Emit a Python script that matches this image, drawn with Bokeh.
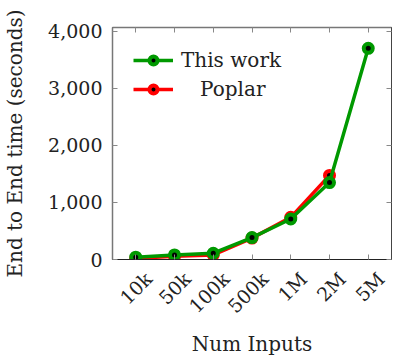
import numpy as np
from bokeh.plotting import figure
from bokeh.models import (Range1d, FixedTicker, LinearAxis, Legend, LegendItem,
                          NumeralTickFormatter, CustomJSTickFormatter)
from bokeh.embed import file_html
from bokeh.resources import INLINE

categories = ["10k", "50k", "100k", "500k", "1M", "2M", "5M"]
this_work = [40, 80, 110, 385, 710, 1350, 3705]
poplar_cats = ["10k", "50k", "100k", "500k", "1M", "2M"]
poplar = [20, 55, 80, 375, 740, 1475]
y_ticks = [0, 1000, 2000, 3000, 4000]

FONT = "DejaVu Serif"
GREEN = "#009900"
RED = "#ff0000"
TXT = "#222222"

xpos = {c: i for i, c in enumerate(categories)}
x_tw = [xpos[c] for c in categories]
x_pp = [xpos[c] for c in poplar_cats]
cat_ticks = list(range(len(categories)))
LABEL_SHIFT = 0.33  # rotated labels end a little right of their tick, as in pgfplots
label_ticks = [t + LABEL_SHIFT for t in cat_ticks]

p = figure(width=393, height=358, output_backend="svg", toolbar_location=None,
           x_range=Range1d(-0.6, len(categories) - 1 + 0.6),
           y_range=Range1d(0, 4070),
           min_border_left=112, min_border_right=2, min_border_top=27, min_border_bottom=99)
p.background_fill_color = None
p.border_fill_color = None
p.grid.visible = False
p.outline_line_color = "#444444"
p.outline_line_width = 1

blank = CustomJSTickFormatter(code="return ''")

# bottom axis: tick marks only
xa = p.xaxis[0]
xa.ticker = FixedTicker(ticks=cat_ticks)
xa.formatter = blank
xa.major_tick_in = 5
xa.major_tick_out = 0
xa.minor_tick_line_color = None
xa.major_tick_line_color = "#888888"
xa.axis_line_color = "#222222"
xa.major_label_standoff = 0

# bottom axis: rotated category labels + title
xl = LinearAxis(ticker=FixedTicker(ticks=label_ticks),
                major_label_overrides={t: c for t, c in zip(label_ticks, categories)},
                major_label_orientation=np.pi / 4,
                major_tick_line_color=None, minor_tick_line_color=None,
                axis_line_color=None,
                major_label_text_font=FONT, major_label_text_font_size="19px",
                major_label_text_color=TXT, major_label_standoff=10,
                axis_label="Num Inputs", axis_label_text_font=FONT,
                axis_label_text_font_style="normal", axis_label_text_font_size="20px",
                axis_label_text_color=TXT, axis_label_standoff=4)
p.add_layout(xl, "below")

ya = p.yaxis[0]
ya.ticker = FixedTicker(ticks=y_ticks)
ya.formatter = NumeralTickFormatter(format="0,0")
ya.major_tick_in = 5
ya.major_tick_out = 0
ya.minor_tick_line_color = None
ya.major_tick_line_color = "#888888"
ya.axis_line_color = "#777777"
ya.axis_line_width = 1.5
ya.major_label_text_font = FONT
ya.major_label_text_font_size = "19px"
ya.major_label_text_color = TXT
ya.major_label_standoff = 10
ya.axis_label = "End to End time (seconds)"
ya.axis_label_text_font = FONT
ya.axis_label_text_font_style = "normal"
ya.axis_label_text_font_size = "20px"
ya.axis_label_text_color = TXT
ya.axis_label_standoff = 18

right = LinearAxis(ticker=FixedTicker(ticks=y_ticks), formatter=blank,
                   major_tick_in=5, major_tick_out=0, minor_tick_line_color=None,
                   major_tick_line_color="#888888", axis_line_color="#444444",
                   major_label_standoff=0)
p.add_layout(right, "right")
top = LinearAxis(ticker=FixedTicker(ticks=cat_ticks), formatter=blank,
                 major_tick_in=5, major_tick_out=0, minor_tick_line_color=None,
                 major_tick_line_color="#888888", axis_line_color="#777777",
                 axis_line_width=1.5, major_label_standoff=0)
p.add_layout(top, "above")

pl = p.line(x_pp, poplar, line_color=RED, line_width=3.5)
ps = p.scatter(x_pp, poplar, size=9, fill_color="black", line_color=RED, line_width=4)
tl = p.line(x_tw, this_work, line_color=GREEN, line_width=3.5)
ts = p.scatter(x_tw, this_work, size=9, fill_color="black", line_color=GREEN, line_width=4)

legend = Legend(items=[LegendItem(label="This work", renderers=[tl, ts]),
                       LegendItem(label="\u00a0\u00a0\u00a0Poplar", renderers=[pl, ps])],
                location="top_left")
legend.border_line_color = None
legend.background_fill_alpha = 0
legend.label_text_font = FONT
legend.label_text_font_size = "20px"
legend.label_text_color = TXT
legend.glyph_width = 40
legend.glyph_height = 20
legend.label_standoff = 8
legend.spacing = 5
legend.margin = 21
legend.padding = 16
p.add_layout(legend)

open("out.html", "w").write(file_html(p, INLINE))
